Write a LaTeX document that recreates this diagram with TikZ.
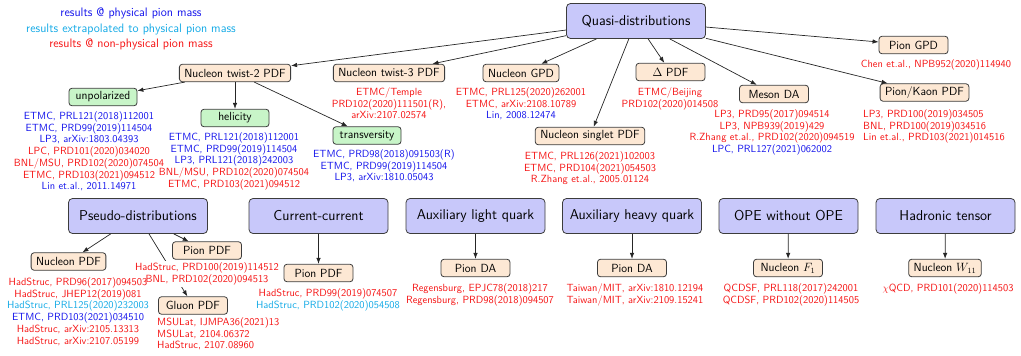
\documentclass[tikz,border=0pt]{standalone}
\usepackage{fontspec}
\renewcommand{\familydefault}{\sfdefault}
\usetikzlibrary{arrows.meta}
\definecolor{refblue}{RGB}{20,20,235}
\definecolor{refcyan}{RGB}{20,170,230}
\definecolor{refred}{RGB}{245,20,20}
\definecolor{boxblue}{RGB}{200,200,250}
\definecolor{boxpeach}{RGB}{253,232,212}
\definecolor{boxgreen}{RGB}{200,245,200}
\definecolor{edgegray}{RGB}{60,60,60}
\newcommand{\rb}[1]{\textcolor{refblue}{#1}}
\newcommand{\rc}[1]{\textcolor{refcyan}{#1}}
\newcommand{\rr}[1]{\textcolor{refred}{#1}}
\begin{document}
\begin{tikzpicture}[x=1pt,y=-1pt,
  mainbox/.style={draw=edgegray, fill=boxblue, rounded corners=4pt, minimum width=139pt, minimum height=35pt, inner sep=0pt, font=\fontsize{14.3}{16}\selectfont, line width=0.8pt},
  subbox/.style={draw=edgegray, fill=boxpeach, rounded corners=3pt, minimum width=69pt, minimum height=17.5pt, inner xsep=5pt, inner ysep=0pt, font=\fontsize{11.8}{13}\selectfont, line width=0.8pt},
  polbox/.style={subbox, fill=boxgreen, minimum width=68pt},
  refs/.style={align=center, inner sep=0pt, anchor=north, font=\fontsize{10.4}{11.7}\selectfont},
  refsl/.style={refs, align=left, anchor=north west},
  arr/.style={-{Latex[length=6pt,width=4.5pt]}, draw=black!85, line width=0.7pt}]
\useasboundingbox (0,0) rectangle (1021,356);

% legend
\node[align=center, inner sep=0pt, anchor=north, font=\fontsize{12.3}{15.5}\selectfont] (legend) at (131,8)
  {\rb{results @ physical pion mass}\\ \rc{results extrapolated to physical pion mass}\\ \rr{results @ non-physical pion mass}};

% main methods
\node[mainbox] (quasi) at (636,21) {Quasi-distributions};
\node[mainbox] (pseudo) at (138,216) {Pseudo-distributions};
\node[mainbox] (cc) at (318.5,216) {Current-current};
\node[mainbox] (alq) at (475.5,216) {Auxiliary light quark};
\node[mainbox] (ahq) at (632,216) {Auxiliary heavy quark};
\node[mainbox] (ope) at (788.5,216) {OPE without OPE};
\node[mainbox] (ht) at (945.5,216) {Hadronic tensor};

% quasi children
\node[subbox] (t2) at (235,73) {Nucleon twist-2 PDF};
\node[subbox] (t3) at (389,73) {Nucleon twist-3 PDF};
\node[subbox] (ngpd) at (521,73) {Nucleon GPD};
\node[subbox] (dpdf) at (670.5,72) {$\Delta$ PDF};
\node[subbox] (mda) at (774,94) {Meson DA};
\node[subbox] (pgpd) at (913.5,45) {Pion GPD};
\node[subbox] (pk) at (924.5,92.5) {Pion/Kaon PDF};
\node[subbox] (singlet) at (590,136) {Nucleon singlet PDF};

\node[polbox] (unpol) at (103,97) {unpolarized};
\node[polbox] (hel) at (235,118) {helicity};
\node[polbox] (trans) at (367,135.5) {transversity};

% other children
\node[subbox] (npdf) at (68.5,261.5) {Nucleon PDF};
\node[subbox] (ppdf) at (207,250.5) {Pion PDF};
\node[subbox] (gpdf) at (193,305.5) {Gluon PDF};
\node[subbox] (ccpion) at (318.5,273) {Pion PDF};
\node[subbox] (dalight) at (475.5,268) {Pion DA};
\node[subbox] (daheavy) at (632,268) {Pion DA};
\node[subbox] (f1) at (788,268) {Nucleon $F_1$};
\node[subbox] (w11) at (945,268) {Nucleon $W_{11}$};

% connectors
\foreach \t in {t2,t3,ngpd,dpdf,mda,pgpd,pk,singlet} \draw[arr] (quasi) -- (\t);
\foreach \t in {unpol,hel,trans} \draw[arr] (t2) -- (\t);
\foreach \t in {npdf,ppdf,gpdf} \draw[arr] (pseudo) -- (\t);
\draw[arr] (cc) -- (ccpion);
\draw[arr] (alq) -- (dalight);
\draw[arr] (ahq) -- (daheavy);
\draw[arr] (ope) -- (f1);
\draw[arr] (ht) -- (w11);

% references
\node[refs] (r-unpol) at (89,111.5) {\rb{ETMC, PRL121(2018)112001}\\ \rb{ETMC, PRD99(2019)114504}\\ \rb{LP3, arXiv:1803.04393}\\ \rr{LPC, PRD101(2020)034020}\\ \rr{BNL/MSU, PRD102(2020)074504}\\ \rr{ETMC, PRD103(2021)094512}\\ \rb{Lin et.al., 2011.14971}};
\node[refs] (r-hel) at (234,132.5) {\rb{ETMC, PRL121(2018)112001}\\ \rb{ETMC, PRD99(2019)114504}\\ \rb{LP3, PRL121(2018)242003}\\ \rr{BNL/MSU, PRD102(2020)074504}\\ \rr{ETMC, PRD103(2021)094512}};
\node[refs] (r-trans) at (384,149.5) {\rb{ETMC, PRD98(2018)091503(R)}\\ \rb{ETMC, PRD99(2019)114504}\\ \rb{LP3, arXiv:1810.05043}};
\node[refs] (r-t3) at (389,87.5) {\rr{ETMC/Temple}\\ \rr{PRD102(2020)111501(R),}\\ \rr{arXiv:2107.02574}};
\node[refs] (r-ngpd) at (521,87.5) {\rr{ETMC, PRL125(2020)262001}\\ \rr{ETMC, arXiv:2108.10789}\\ \rb{Lin, 2008.12474}};
\node[refs] (r-dpdf) at (670,87.5) {\rr{ETMC/Beijing}\\ \rr{PRD102(2020)014508}};
\node[refs] (r-singlet) at (590,151.5) {\rr{ETMC, PRL126(2021)102003}\\ \rr{ETMC, PRD104(2021)054503}\\ \rr{R.Zhang et.al., 2005.01124}};
\node[refs] (r-mda) at (772,109.5) {\rr{LP3, PRD95(2017)094514}\\ \rr{LP3, NPB939(2019)429}\\ \rr{R.Zhang et.al., PRD102(2020)094519}\\ \rb{LPC, PRL127(2021)062002}};
\node[refs] (r-pgpd) at (936,59.5) {\rr{Chen et.al., NPB952(2020)114940}};
\node[refsl] (r-pk) at (863,109.5) {\rr{LP3, PRD100(2019)034505}\\ \rr{BNL, PRD100(2019)034516}\\ \rr{Lin et.al., PRD103(2021)014516}};

\node[refs, fill=white, inner ysep=2pt] (r-ppdf) at (207,260.5) {\rr{HadStruc, PRD100(2019)114512}\\ \rr{BNL, PRD102(2020)094513}};
\node[refs] (r-npdf) at (78,277.5) {\rr{HadStruc, PRD96(2017)094503}\\ \rr{HadStruc, JHEP12(2019)081}\\ \rc{HadStruc, PRL125(2020)232003}\\ \rb{ETMC, PRD103(2021)034510}\\ \rr{HadStruc, arXiv:2105.13313}\\ \rr{HadStruc, arXiv:2107.05199}};
\node[refsl] (r-gpdf) at (157,317.5) {\rr{MSULat, IJMPA36(2021)13}\\ \rr{MSULat, 2104.06372}\\ \rr{HadStruc, 2107.08960}};
\node[refs] (r-cc) at (328,288.5) {\rr{HadStruc, PRD99(2019)074507}\\ \rc{HadStruc, PRD102(2020)054508}};
\node[refs] (r-dalight) at (480,283.5) {\rr{Regensburg, EPJC78(2018)217}\\ \rr{Regensburg, PRD98(2018)094507}};
\node[refs] (r-daheavy) at (635,283.5) {\rr{Taiwan/MIT, arXiv:1810.12194}\\ \rr{Taiwan/MIT, arXiv:2109.15241}};
\node[refs] (r-f1) at (791,283.5) {\rr{QCDSF, PRL118(2017)242001}\\ \rr{QCDSF, PRD102(2020)114505}};
\node[refs] (r-w11) at (948,283.5) {\rr{$\chi$QCD, PRD101(2020)114503}};
\end{tikzpicture}
\end{document}
